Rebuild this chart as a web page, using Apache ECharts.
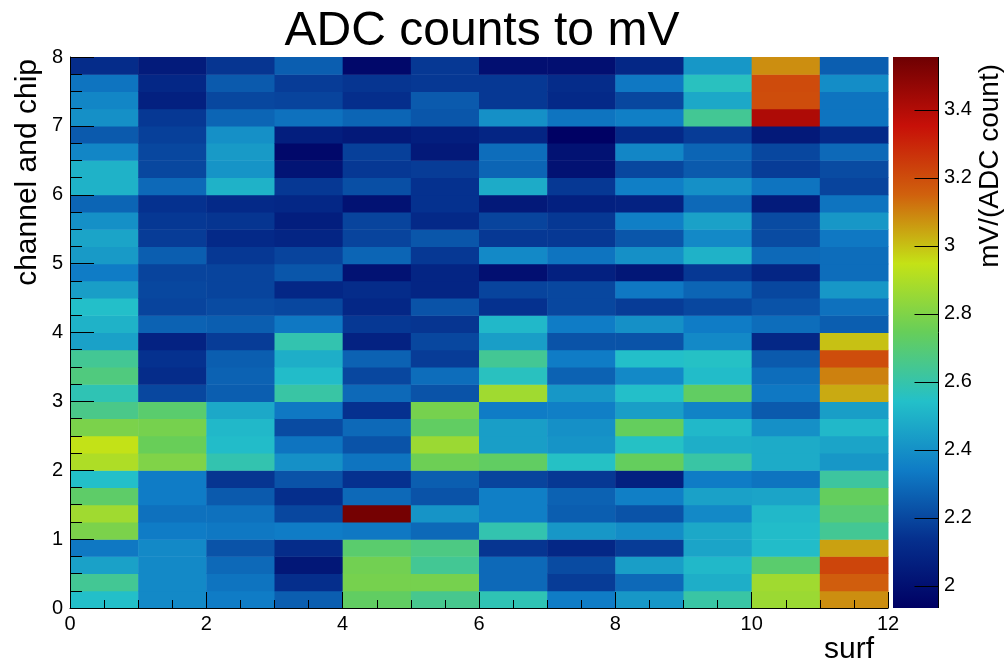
<!DOCTYPE html>
<html>
<head>
<meta charset="utf-8">
<script src="https://cdn.jsdelivr.net/npm/echarts@6/dist/echarts.min.js"></script>
<style>
  html, body { margin: 0; padding: 0; background: #fff; }
  #chart { width: 1008px; height: 665px; }
</style>
</head>
<body>
<div id="chart"></div>
<script>
// mV per ADC count, one array per surf bin, 32 "channel and chip" bins from bottom (0) to top (8)
const surf0  = [2.54, 2.64, 2.45, 2.33, 2.79, 2.87, 2.72, 2.54, 2.90, 2.945, 2.79, 2.66, 2.58, 2.68, 2.64, 2.45, 2.50, 2.54, 2.44, 2.34, 2.43, 2.46, 2.40, 2.28, 2.50, 2.50, 2.37, 2.25, 2.40, 2.37, 2.32, 2.12];
const surf1  = [2.38, 2.38, 2.38, 2.38, 2.34, 2.31, 2.34, 2.34, 2.80, 2.75, 2.78, 2.71, 2.20, 2.12, 2.14, 2.08, 2.27, 2.19, 2.20, 2.19, 2.26, 2.17, 2.16, 2.14, 2.29, 2.20, 2.20, 2.18, 2.16, 2.07, 2.10, 2.05];
const surf2  = [2.34, 2.32, 2.29, 2.23, 2.33, 2.31, 2.25, 2.15, 2.59, 2.53, 2.52, 2.47, 2.26, 2.27, 2.26, 2.17, 2.26, 2.21, 2.19, 2.19, 2.16, 2.11, 2.15, 2.11, 2.50, 2.41, 2.43, 2.40, 2.28, 2.20, 2.25, 2.15];
const surf3  = [2.26, 2.13, 2.03, 2.12, 2.34, 2.20, 2.13, 2.23, 2.40, 2.32, 2.21, 2.33, 2.61, 2.53, 2.49, 2.59, 2.33, 2.20, 2.10, 2.24, 2.19, 2.09, 2.06, 2.10, 2.16, 2.02, 1.97, 2.06, 2.31, 2.19, 2.17, 2.26];
const surf4  = [2.73, 2.78, 2.77, 2.71, 2.33, 3.54, 2.29, 2.14, 2.32, 2.23, 2.29, 2.14, 2.29, 2.20, 2.27, 2.08, 2.16, 2.10, 2.12, 2.01, 2.28, 2.19, 2.19, 2.01, 2.22, 2.16, 2.18, 2.04, 2.28, 2.13, 2.15, 1.97];
const surf5  = [2.65, 2.78, 2.64, 2.67, 2.29, 2.41, 2.23, 2.26, 2.76, 2.86, 2.73, 2.78, 2.23, 2.30, 2.17, 2.20, 2.15, 2.23, 2.09, 2.09, 2.16, 2.24, 2.11, 2.14, 2.14, 2.17, 2.04, 2.06, 2.24, 2.25, 2.16, 2.16];
const surf6  = [2.58, 2.29, 2.29, 2.15, 2.59, 2.35, 2.35, 2.19, 2.73, 2.44, 2.44, 2.34, 2.87, 2.56, 2.64, 2.44, 2.52, 2.14, 2.19, 2.00, 2.38, 2.16, 2.19, 2.04, 2.48, 2.28, 2.30, 2.09, 2.40, 2.16, 2.16, 2.00];
const surf7  = [2.34, 2.17, 2.21, 2.10, 2.42, 2.26, 2.27, 2.16, 2.55, 2.41, 2.40, 2.35, 2.42, 2.27, 2.34, 2.23, 2.34, 2.20, 2.20, 2.07, 2.32, 2.16, 2.16, 2.07, 2.16, 2.01, 2.01, 1.94, 2.32, 2.11, 2.12, 2.00];
const surf8  = [2.42, 2.29, 2.44, 2.17, 2.39, 2.23, 2.35, 2.07, 2.74, 2.55, 2.74, 2.44, 2.54, 2.38, 2.54, 2.23, 2.40, 2.17, 2.33, 2.03, 2.40, 2.24, 2.35, 2.08, 2.35, 2.20, 2.37, 2.11, 2.35, 2.20, 2.33, 2.10];
const surf9  = [2.61, 2.49, 2.52, 2.46, 2.47, 2.38, 2.45, 2.34, 2.61, 2.49, 2.52, 2.36, 2.73, 2.53, 2.55, 2.38, 2.34, 2.20, 2.28, 2.16, 2.50, 2.38, 2.45, 2.29, 2.40, 2.25, 2.28, 2.17, 2.64, 2.47, 2.56, 2.42];
const surf10 = [2.86, 2.87, 2.71, 2.53, 2.53, 2.52, 2.46, 2.32, 2.48, 2.48, 2.40, 2.25, 2.33, 2.30, 2.25, 2.10, 2.30, 2.23, 2.20, 2.09, 2.29, 2.21, 2.21, 2.05, 2.32, 2.17, 2.20, 2.04, 3.41, 3.20, 3.205, 3.08];
const surf11 = [3.08, 3.16, 3.22, 3.05, 2.64, 2.70, 2.74, 2.62, 2.42, 2.46, 2.52, 2.44, 3.035, 3.10, 3.20, 3.00, 2.26, 2.31, 2.42, 2.30, 2.30, 2.33, 2.42, 2.32, 2.19, 2.21, 2.29, 2.11, 2.32, 2.32, 2.39, 2.26];

// colour scale range and its labelled ticks
const zMin = 1.935;
const zMax = 3.555;
const zTicks = [2.0, 2.2, 2.4, 2.6, 2.8, 3.0, 3.2, 3.4];

// rainbow palette stops, low to high
const palette = ['#000063', '#05308e', '#0f7cc6', '#23c0c9', '#66ce5a', '#c4e216', '#d0610d', '#c71008', '#6e0002'];

const surfBins = [surf0, surf1, surf2, surf3, surf4, surf5, surf6, surf7, surf8, surf9, surf10, surf11];
const BIN_W = 1;
const BIN_H = 0.25;
const Z_TICK_LEN = 24;

const cells = [];
surfBins.forEach(function (col, i) {
  col.forEach(function (v, j) {
    cells.push([i * BIN_W, j * BIN_H, v]);
  });
});

// vertical gradient for the colour bar: low values at the bottom
const barGradient = new echarts.graphic.LinearGradient(0, 1, 0, 0,
  palette.map(function (c, i) { return { offset: i / (palette.length - 1), color: c }; }));

const FONT = '"Liberation Sans", Arial, Helvetica, sans-serif';
const chart = echarts.init(document.getElementById('chart'), null, { renderer: 'canvas' });

const titleTexts = [
  {
    type: 'text', x: 28, y: 59, rotation: Math.PI / 2,
    style: { text: 'channel and chip', font: '30px ' + FONT, fill: '#000', align: 'right', verticalAlign: 'middle' }
  },
  {
    type: 'text', x: 990, y: 64, rotation: Math.PI / 2,
    style: { text: 'mV/(ADC count)', font: '28px ' + FONT, fill: '#000', align: 'right', verticalAlign: 'middle' }
  },
  {
    type: 'text', x: 874, y: 650,
    style: { text: 'surf', font: '30px ' + FONT, fill: '#000', align: 'right', verticalAlign: 'middle' }
  }
];

chart.setOption({
  animation: false,
  backgroundColor: '#ffffff',
  title: {
    text: 'ADC counts to mV',
    left: 477,
    top: 3,
    textAlign: 'center',
    z: 20,
    textStyle: { fontFamily: FONT, fontSize: 48, fontWeight: 'normal', color: '#000' }
  },
  grid: [
    { left: 70, top: 57, width: 818, height: 551 },
    // the colour bar area
    { left: 893, top: 57, width: 46, height: 551 }
  ],
  xAxis: [
    {
      type: 'value', gridIndex: 0, min: 0, max: 12, interval: 2, z: 10,
      axisLine: { show: true, onZero: false, lineStyle: { color: '#000', width: 1 } },
      axisTick: { show: true, inside: true, length: 16, lineStyle: { color: '#000' } },
      minorTick: { show: true, splitNumber: 4, length: 8, lineStyle: { color: '#000' } },
      axisLabel: { color: '#000', fontFamily: FONT, fontSize: 20, margin: 6 },
      splitLine: { show: false }
    },
    { type: 'value', gridIndex: 1, min: 0, max: 1, show: false }
  ],
  yAxis: [
    {
      type: 'value', gridIndex: 0, min: 0, max: 8, interval: 1, z: 10,
      axisLine: { show: true, onZero: false, lineStyle: { color: '#000', width: 1 } },
      axisTick: { show: true, inside: true, length: 24, lineStyle: { color: '#000' } },
      minorTick: { show: true, splitNumber: 4, length: 12, lineStyle: { color: '#000' } },
      axisLabel: { color: '#000', fontFamily: FONT, fontSize: 20, margin: 7 },
      splitLine: { show: false }
    },
    {
      type: 'value', gridIndex: 1, position: 'right', min: zMin, max: zMax,
      axisLine: { show: false, onZero: false },
      axisTick: { show: false },
      axisLabel: {
        show: true, customValues: zTicks, margin: 5, color: '#000', fontFamily: FONT, fontSize: 20,
        formatter: function (v) { return String(Math.round(v * 10) / 10); }
      },
      splitLine: { show: false }
    }
  ],
  visualMap: {
    type: 'continuous',
    show: false,
    seriesIndex: 0,
    dimension: 2,
    min: zMin,
    max: zMax,
    inRange: { color: palette }
  },
  graphic: titleTexts,
  series: [
    {
      type: 'custom',
      coordinateSystem: 'cartesian2d',
      xAxisIndex: 0,
      yAxisIndex: 0,
      data: cells,
      encode: { x: 0, y: 1 },
      renderItem: function (params, api) {
        const x = api.value(0);
        const y = api.value(1);
        const topLeft = api.coord([x, y + BIN_H]);
        const bottomRight = api.coord([x + BIN_W, y]);
        return {
          type: 'rect',
          shape: {
            x: topLeft[0],
            y: topLeft[1],
            width: bottomRight[0] - topLeft[0] + 0.5,
            height: bottomRight[1] - topLeft[1] + 0.5
          },
          style: { fill: api.visual('color') }
        };
      }
    },
    {
      // colour bar body spanning the full z range
      type: 'custom',
      coordinateSystem: 'cartesian2d',
      xAxisIndex: 1,
      yAxisIndex: 1,
      z: 1,
      silent: true,
      data: [[0, zMin, 1, zMax]],
      encode: { x: [0, 2], y: [1, 3] },
      renderItem: function (params, api) {
        const p0 = api.coord([api.value(0), api.value(3)]);
        const p1 = api.coord([api.value(2), api.value(1)]);
        return {
          type: 'rect',
          shape: { x: p0[0], y: p0[1], width: p1[0] - p0[0], height: p1[1] - p0[1] },
          style: { fill: barGradient }
        };
      }
    }
  ]
});

// colour bar border and tick marks, placed through the colour bar's own axis scale
const barTop = chart.convertToPixel({ gridIndex: 1 }, [1, zMax]);
const barBottom = chart.convertToPixel({ gridIndex: 1 }, [1, zMin]);
const barRight = Math.round(barTop[0]) - 0.5;
const barMarks = [
  {
    type: 'line', z: 100,
    shape: { x1: barRight, y1: barTop[1], x2: barRight, y2: barBottom[1] },
    style: { stroke: '#000', lineWidth: 1 }
  }
];
zTicks.forEach(function (t) {
  const p = chart.convertToPixel({ gridIndex: 1 }, [1, t]);
  const yy = Math.round(p[1]) + 0.5;
  barMarks.push({
    type: 'line', z: 100,
    shape: { x1: barRight - Z_TICK_LEN, y1: yy, x2: barRight, y2: yy },
    style: { stroke: '#000', lineWidth: 1 }
  });
});
chart.setOption({ graphic: titleTexts.concat(barMarks) });
</script>
</body>
</html>
